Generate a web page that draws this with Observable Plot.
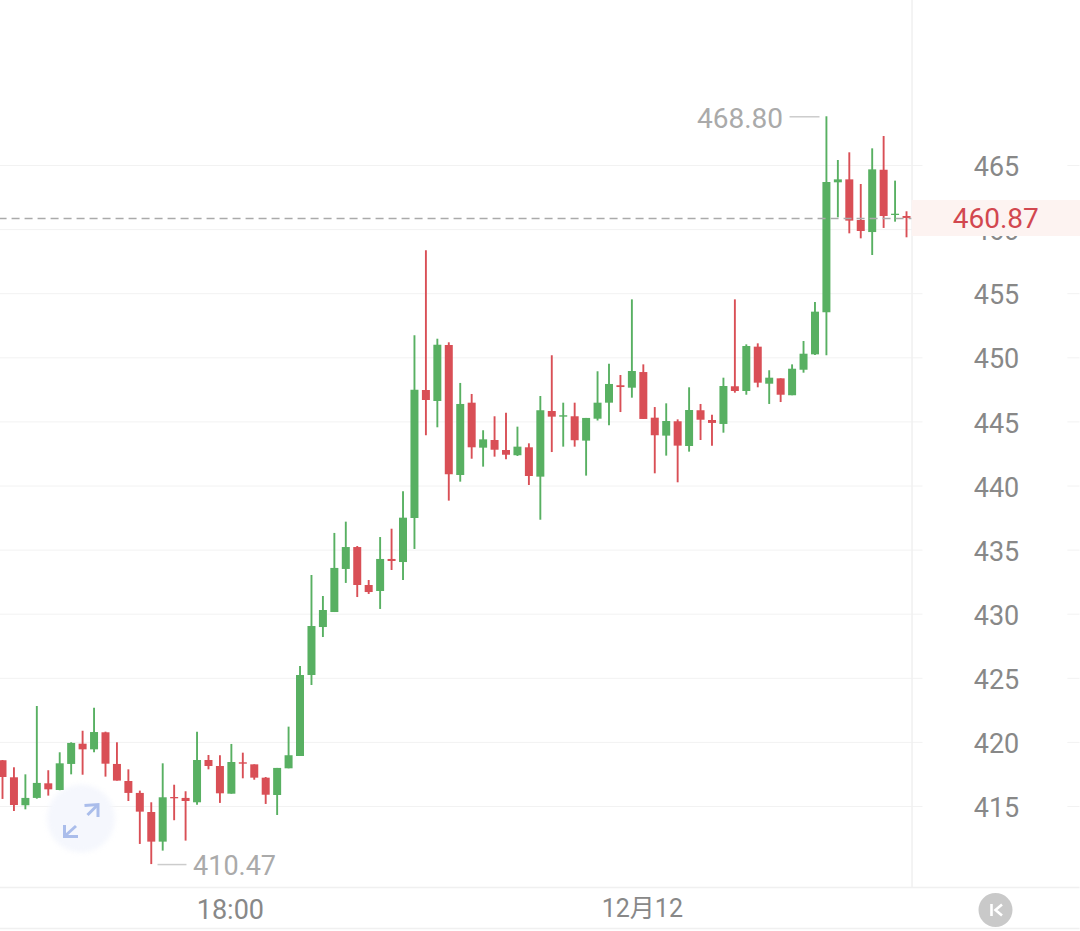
<!DOCTYPE html>
<html><head><meta charset="utf-8">
<style>html,body{margin:0;padding:0;background:#fff;overflow:hidden}svg{display:block}</style>
<script src="https://cdn.jsdelivr.net/npm/d3@7"></script>
<script src="https://cdn.jsdelivr.net/npm/@observablehq/plot@0.6"></script>
</head><body><div id="chart"></div>
<script>
// Each candle is [body top, body bottom, high, low]; direction says up or down.
const bodyTop = [418.57,417.24,415.63,416.80,416.77,418.33,419.92,419.86,420.77,420.75,418.28,416.95,416.02,414.53,415.68,415.70,415.63,418.59,418.59,418.12,418.43,418.41,418.25,417.21,417.97,418.96,425.22,429.04,430.29,433.57,435.20,435.20,432.24,434.27,434.27,437.49,447.47,447.45,450.98,450.96,446.36,446.46,443.60,443.55,442.77,443.03,442.98,445.87,445.81,445.48,445.40,445.27,446.46,447.92,447.82,448.93,448.85,445.29,445.03,445.01,445.89,445.87,445.11,447.76,447.74,450.88,450.83,448.41,448.36,449.11,450.28,453.56,463.67,463.88,463.88,460.71,464.66,464.63,461.20,461.02];
const bodyBottom = [417.26,415.08,415.06,415.63,416.30,416.25,418.28,419.42,419.42,418.30,416.98,416.02,414.56,412.22,412.22,415.60,415.39,415.29,418.12,415.99,415.96,418.30,417.21,415.88,415.86,417.94,418.90,425.22,428.96,430.13,433.49,432.24,431.69,431.77,434.11,434.03,437.47,446.67,446.59,440.87,440.82,442.98,442.95,442.79,442.40,442.36,440.74,440.69,445.37,445.37,443.53,443.50,445.21,446.46,447.68,447.63,445.19,443.92,443.89,443.11,443.08,445.13,444.88,444.80,447.37,447.37,448.02,447.94,447.08,447.04,449.03,450.23,453.51,463.65,460.66,459.85,459.77,461.02,461.10,460.87];
const high = [418.59,418.02,417.47,422.80,417.79,419.19,419.97,420.87,422.67,420.80,419.97,417.86,416.20,415.29,418.33,416.66,416.15,420.80,418.98,418.96,419.84,419.16,418.25,417.26,417.97,421.19,425.92,433.02,431.38,436.30,437.18,435.28,432.63,435.98,436.63,439.55,451.72,458.35,451.45,451.17,448.00,447.14,444.31,445.40,445.68,444.59,443.29,446.98,450.16,446.46,446.46,445.27,448.91,449.50,448.62,454.52,449.45,446.12,446.41,445.16,447.66,446.36,445.52,448.41,454.52,451.01,451.09,448.99,448.36,449.45,451.27,454.31,468.80,465.39,465.99,463.52,466.30,467.26,463.78,461.39];
const low = [415.55,414.61,414.74,415.57,415.81,416.23,417.47,417.44,419.19,417.29,416.98,415.39,412.04,410.47,411.52,413.89,412.30,415.10,417.86,415.24,415.96,417.16,417.05,415.16,414.30,417.94,418.90,424.44,428.18,430.13,432.40,431.30,431.54,430.37,433.41,432.63,435.05,443.92,444.54,438.82,440.30,442.09,441.47,442.25,442.04,442.30,440.04,437.33,442.61,443.03,443.03,440.77,445.07,444.70,445.73,446.85,445.19,440.95,442.33,440.25,442.64,443.55,443.11,444.12,447.24,447.08,447.66,446.36,446.51,447.04,448.80,450.18,450.16,460.92,459.67,459.28,457.98,460.09,460.58,459.36];
const direction = ("dduuduudud"+"ddddudd"+"udd"+"uddduuuuuu"+"uddud"+"uudud"+"ududdududu"+"duuududdud"+"uddudududu"+"uuuuddudud").split("");

const yTicks = [415,420,425,430,435,440,445,450,455,460,465];
const xTickIndex = [20,56];
const xTickLabels = ["18:00","12月12"];
const lastPrice = 460.87, maxPrice = 468.80, minPrice = 410.47;
const GREEN = "#58b062", RED = "#d94f56";

const candles = bodyTop.map((t,i)=>({i,t,b:bodyBottom[i],h:high[i],l:low[i],c:direction[i]==="u"?GREEN:RED}));
const font = "Roboto, 'Noto Sans CJK SC', sans-serif";

const bubble = () => {
  const g = d3.create("svg:g");
  g.append("circle").attr("cx",81).attr("cy",818.5).attr("r",34).attr("fill","#f5f7fd").attr("style","filter:blur(2.5px)");
  return g.node();
};
const icon = () => {
  const g = d3.create("svg:g");
  g.append("g").attr("fill","none").attr("stroke","#aabdeb").attr("stroke-width",3)
    .selectAll("path").data(["M84.5 805.5L98 804.5L98 817","M87.5 815L96.5 806","M64.5 825L64.5 836.5L78 836.5","M66 835L76 826"])
    .join("path").attr("d",d=>d);
  return g.node();
};
const kButton = () => {
  const g = d3.create("svg:g");
  g.append("circle").attr("cx",995.5).attr("cy",910).attr("r",17).attr("fill","#c9c9c9");
  g.append("path").attr("d","M991.5 904V916M1002 904.5L995.5 910L1002 915.5").attr("fill","none").attr("stroke","#fff").attr("stroke-width",2.6);
  return g.node();
};

const plot = Plot.plot({
  width:1080,height:931,marginLeft:0,marginRight:168,marginTop:0,marginBottom:44,
  style:{background:"#fff",fontFamily:font},
  x:{domain:[0,94.16],range:[2,1079.5]},
  y:{domain:[415,465],range:[806,165]},
  color:{type:"identity"},
  marks:[
    Plot.ruleY(yTicks,{x1:-0.3,x2:80.44,stroke:"#f2f2f2",strokeWidth:1}),
    Plot.ruleY(yTicks,{x1:93.1,x2:94.16,stroke:"#f2f2f2",strokeWidth:1}),
    Plot.ruleY([408.68,405.48],{x1:-0.3,x2:94.16,stroke:"#f0f0f0",strokeWidth:1.5}),
    Plot.ruleX([79.48],{y1:408.68,y2:478,stroke:"#f0f0f0",strokeWidth:1.5}),
    Plot.axisY(yTicks,{anchor:"right",tickSize:0,tickPadding:84,textAnchor:"middle",fontSize:27,fill:"#888",label:null,dy:2}),
    Plot.axisX(xTickIndex,{anchor:"bottom",tickSize:0,tickPadding:12,fontSize:d=>d===56?25:27,fill:"#888",label:null,dx:-1,tickFormat:d=>xTickLabels[xTickIndex.indexOf(d)]}),
    bubble,
    Plot.ruleX(candles,{x:"i",y1:"l",y2:"h",stroke:"c",strokeWidth:1.9}),
    Plot.ruleX(candles,{x:"i",y1:"b",y2:"t",stroke:"c",strokeWidth:8}),
    Plot.ruleY([lastPrice],{x1:-0.3,x2:79.48,stroke:"#aaa",strokeWidth:1.6,strokeDasharray:"8,5"}),
    Plot.rect([0],{x1:79.5,x2:94.2,y1:459.46,y2:462.27,fill:"#fdf3f1"}),
    Plot.text([lastPrice],{x:86.8,y:lastPrice,dy:1,text:d=>d.toFixed(2),fontSize:28,fill:"#d2474f"}),
    Plot.ruleY([maxPrice],{x1:68.82,x2:71.44,stroke:"#ccc",strokeWidth:1.5}),
    Plot.text([maxPrice],{x:68.21,y:maxPrice,dy:2,text:d=>d.toFixed(2),textAnchor:"end",fontSize:28,fill:"#aaa"}),
    Plot.ruleY([minPrice],{x1:13.59,x2:16.12,stroke:"#ccc",strokeWidth:1.5}),
    Plot.text([minPrice],{x:16.65,y:minPrice,dy:2,text:d=>d.toFixed(2),textAnchor:"start",fontSize:27,fill:"#aaa"}),
    icon,kButton
  ]
});
document.getElementById("chart").append(plot);
</script></body></html>
